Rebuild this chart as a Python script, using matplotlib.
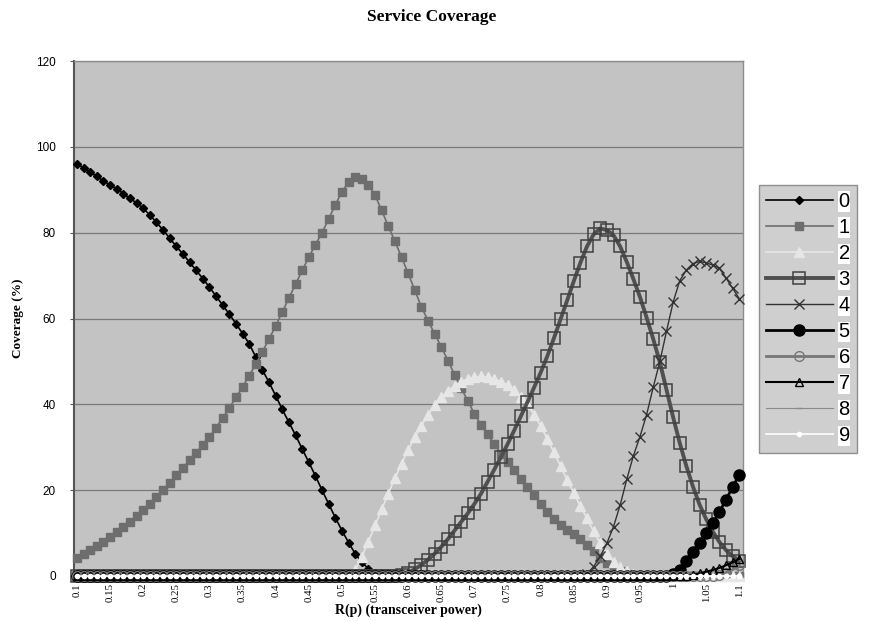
import numpy as np
import matplotlib
matplotlib.use("Agg")
import matplotlib.pyplot as plt

# categories: R(p) from 0.10 to 1.10 in steps of 0.01
r_values = np.round(np.arange(0.10, 1.1001, 0.01), 2)
tick_values = np.round(np.arange(0.10, 1.1001, 0.05), 2)
tick_labels = ["0.1", "0.15", "0.2", "0.25", "0.3", "0.35", "0.4", "0.45", "0.5", "0.55",
               "0.6", "0.65", "0.7", "0.75", "0.8", "0.85", "0.9", "0.95", "1", "1.05", "1.1"]

cov0 = np.concatenate([[
    96.0, 95.1, 94.1, 93.1, 92.1, 91.1, 90.2, 89.1, 88.0, 86.9,
    85.7, 84.1, 82.4, 80.6, 78.7, 76.8, 75.0, 73.1, 71.2, 69.3,
    67.3, 65.2, 63.1, 61.0, 58.8, 56.5, 54.1, 51.0, 48.0, 45.1,
    42.0, 38.8, 35.8, 32.8, 29.6, 26.5, 23.3, 20.0, 16.8, 13.6,
    10.6, 7.8, 5.2, 3.2, 1.7, 0.7, 0.2], np.zeros(54)])

cov1 = np.concatenate([[
    4.2, 5.1, 6.0, 7.0, 8.0, 9.1, 10.2, 11.4, 12.6, 13.9,
    15.3, 16.8, 18.3, 20.0, 21.7, 23.5, 25.2, 27.0, 28.7, 30.5,
    32.4, 34.6, 36.8, 39.2, 41.6, 44.1, 46.7, 49.4, 52.3, 55.2,
    58.3, 61.5, 64.8, 68.0, 71.2, 74.3, 77.2, 80.0, 83.2, 86.5,
    89.5, 91.8, 92.9, 92.6, 91.2, 88.7, 85.2, 81.5, 78.0, 74.3,
    70.5, 66.6, 62.7, 59.5, 56.4, 53.4, 50.2, 46.9, 43.8, 40.8,
    37.8, 35.2, 33.0, 30.7, 28.5, 26.6, 24.6, 22.6, 20.8, 18.8,
    16.8, 14.9, 13.2, 11.9, 10.8, 9.8, 8.7, 7.3, 5.8, 4.3,
    3.0, 1.9, 1.1, 0.5, 0.2], np.zeros(16)])

cov2 = np.concatenate([np.zeros(42), [
    1.5, 4.5, 8.0, 11.8, 15.5, 19.2, 22.8, 26.2,
    29.4, 32.3, 35.0, 37.6, 39.8, 41.6, 43.1, 44.3, 45.3, 45.9,
    46.3, 46.5, 46.4, 46.0, 45.3, 44.5, 43.3, 41.8, 40.0, 37.6,
    34.9, 32.0, 28.8, 25.6, 22.4, 19.3, 16.3, 13.4, 10.4, 7.6,
    5.2, 3.3, 2.0, 1.1, 0.5, 0.2], np.zeros(15)])

cov3 = np.concatenate([np.zeros(49), [
    0.3,
    0.8, 1.6, 2.6, 3.8, 5.2, 6.8, 8.6, 10.6, 12.6, 14.6,
    16.8, 19.2, 22.0, 24.8, 27.7, 30.7, 33.9, 37.2, 40.5, 43.9,
    47.4, 51.2, 55.4, 59.8, 64.2, 68.7, 73.0, 76.8, 79.6, 81.0,
    80.6, 79.4, 76.8, 73.2, 69.2, 65.0, 60.2, 55.2, 49.8, 43.4,
    37.0, 31.0, 25.6, 20.8, 16.6, 13.2, 10.3, 7.9, 6.0, 4.6, 3.6]])

cov4 = np.concatenate([np.zeros(77), [
    0.5, 2.2, 4.6, 7.6, 11.5, 16.5, 22.5, 28.0, 32.5, 37.6, 44.0, 50.0,
    57.0, 63.8, 68.8, 71.3, 72.8, 73.3, 73.0, 72.4, 71.7, 69.4, 67.0, 64.6]])

cov5 = np.concatenate([np.zeros(90), [
    0.4, 1.5, 3.4, 5.6, 7.8, 10.0, 12.4, 15.0, 17.8, 20.8, 23.6]])

cov6 = np.concatenate([np.zeros(97), [0.3, 0.8, 1.5, 2.5]])

cov7 = np.concatenate([np.zeros(93), [0.3, 0.6, 1.0, 1.4, 1.9, 2.5, 3.2, 4.0]])

cov8 = np.zeros(101)
cov9 = np.zeros(101)

series = [cov0, cov1, cov2, cov3, cov4, cov5, cov6, cov7, cov8, cov9]

styles = [
    dict(color="black", lw=1.2, marker="D", ms=3.8, mfc="black", mec="black"),
    dict(color="#6e6e6e", lw=1.2, marker="s", ms=5.5, mfc="#6e6e6e", mec="#6e6e6e"),
    dict(color="#e6e6e6", lw=1.2, marker="^", ms=6.5, mfc="#e6e6e6", mec="#e6e6e6"),
    dict(color="#505050", lw=2.8, marker="s", ms=8.5, mfc="none", mec="#404040", mew=1.1),
    dict(color="#333333", lw=1.0, marker="x", ms=6.5, mec="#333333", mew=1.0),
    dict(color="black", lw=2.0, marker="o", ms=8, mfc="black", mec="black"),
    dict(color="#777777", lw=2.0, marker="o", ms=7, mfc="none", mec="#777777", mew=1.0),
    dict(color="black", lw=1.5, marker="^", ms=6, mfc="none", mec="black", mew=1.0),
    dict(color="#8a8a8a", lw=0.8, marker="_", ms=4, mec="#8a8a8a"),
    dict(color="white", lw=1.2, marker="o", ms=3, mfc="white", mec="white"),
]

fig = plt.figure(figsize=(8.69, 6.21), dpi=100)
ax = fig.add_axes([74 / 869, 1 - 576 / 621, (743 - 74) / 869, (576 - 61) / 621])
ax.set_facecolor("#c3c3c3")

for i, (vals, st) in enumerate(zip(series, styles)):
    ax.plot(r_values, vals, label=str(i), clip_on=False, zorder=3 + i, **st)

ax.set_xlim(0.0955, 1.1055)
ax.set_ylim(0, 120)
ax.set_yticks(np.arange(0, 121, 20))
ax.yaxis.grid(True, color="#7a7a7a", lw=0.9)
ax.set_axisbelow(True)
ax.set_xticks(tick_values)
ax.set_xticklabels(tick_labels, rotation=90, fontsize=7.8, family="Liberation Serif")
ax.tick_params(axis="x", length=0, pad=5)
ax.tick_params(axis="y", length=3, labelsize=8.5, color="#555555", pad=10)
for lbl in ax.get_yticklabels():
    lbl.set_family("Liberation Sans")

for side in ["top", "right", "bottom"]:
    ax.spines[side].set_color("#8c8c8c")
    ax.spines[side].set_linewidth(1.0)
ax.spines["left"].set_color("#555555")
ax.spines["left"].set_linewidth(1.5)

fig.text(0.497, 0.972, "Service Coverage", ha="center", va="center",
         fontsize=12.5, fontweight="bold", family="Liberation Serif")
fig.text((74 + 743) / 2 / 869, 1 - 610 / 621, "R(p) (transceiver power)",
         ha="center", va="center", fontsize=10, fontweight="bold", family="Liberation Serif")
fig.text(18 / 869, 1 - 318 / 621, "Coverage (%)", rotation=90, ha="center", va="center",
         fontsize=9.5, fontweight="bold", family="Liberation Serif")

leg = fig.legend(loc="upper left", bbox_to_anchor=(759 / 869, 1 - 185 / 621),
                 frameon=True, fancybox=False, handlelength=3.3,
                 labelspacing=0.35, borderpad=0.35, borderaxespad=0, handletextpad=0.3,
                 prop={"family": "Liberation Sans", "size": 14.5})
leg.get_frame().set_facecolor("#c3c3c3")
leg.get_frame().set_edgecolor("#7a7a7a")
leg.get_frame().set_linewidth(1.0)
for t in leg.get_texts():
    t.set_bbox(dict(facecolor="white", edgecolor="none", pad=0.5))

fig.savefig("out.png", dpi=100)
